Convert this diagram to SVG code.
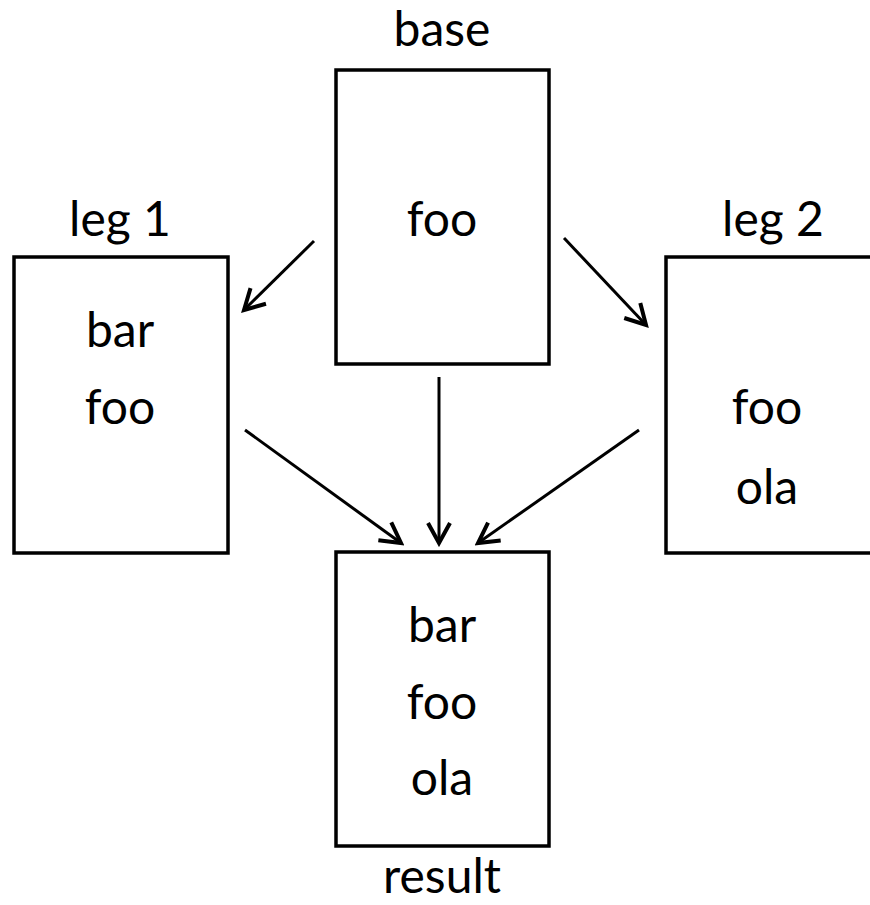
<svg xmlns="http://www.w3.org/2000/svg" width="870" height="905" viewBox="0 0 870 905">
<style>
.box{fill:#fff;stroke:#000;stroke-width:3.5}
.t{font-family:Lato,"Open Sans","Liberation Sans",sans-serif;font-size:48px;fill:#000;text-anchor:middle}
.c{stroke:#000;stroke-width:3;fill:none}
</style>
<defs>
<marker id="ah" markerUnits="userSpaceOnUse" viewBox="-24 -14 28 28" markerWidth="28" markerHeight="28" refX="0" refY="0" orient="auto">
<path d="M-20,-11 L0,0 L-20,11" fill="none" stroke="#000" stroke-width="4" stroke-linejoin="miter"/>
</marker>
</defs>
<rect width="870" height="905" fill="#fff"/>
<g id="base">
<rect class="box" x="336" y="70" width="213" height="294"/>
<text class="t" x="442" y="46">base</text>
<text class="t" x="442" y="236">foo</text>
</g>
<g id="leg1">
<rect class="box" x="14" y="257" width="214" height="296"/>
<text class="t" x="120" y="236">leg 1</text>
<text class="t" x="120" y="347">bar</text>
<text class="t" x="120" y="424">foo</text>
</g>
<g id="leg2">
<rect class="box" x="666" y="257" width="220" height="296"/>
<text class="t" x="773" y="236">leg 2</text>
<text class="t" x="767" y="424">foo</text>
<text class="t" x="767" y="504">ola</text>
</g>
<g id="result">
<rect class="box" x="336" y="552" width="213" height="294"/>
<text class="t" x="442" y="642">bar</text>
<text class="t" x="442" y="719">foo</text>
<text class="t" x="442" y="795">ola</text>
<text class="t" x="442" y="893">result</text>
</g>
<g id="connectors">
<line class="c" x1="314" y1="241" x2="244" y2="310" marker-end="url(#ah)"/>
<line class="c" x1="564" y1="238" x2="646" y2="325" marker-end="url(#ah)"/>
<line class="c" x1="245" y1="430" x2="401" y2="543" marker-end="url(#ah)"/>
<line class="c" x1="439" y1="377" x2="439" y2="543" marker-end="url(#ah)"/>
<line class="c" x1="639" y1="430" x2="478" y2="543" marker-end="url(#ah)"/>
</g>
</svg>
